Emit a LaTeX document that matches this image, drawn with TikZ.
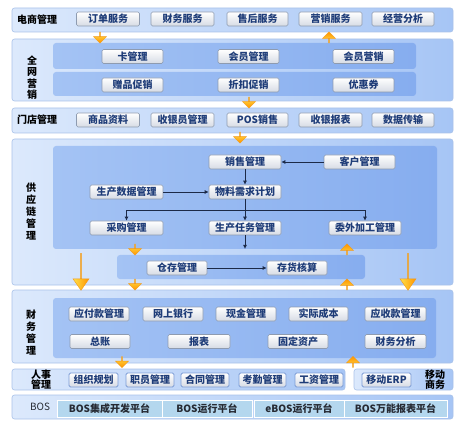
\documentclass[tikz,border=0pt]{standalone}
\usepackage{fontspec}
\setmainfont{Noto Sans CJK SC}
\usetikzlibrary{arrows.meta,shapes.arrows,shadows}

\definecolor{bandL}{HTML}{DCE9FC}
\definecolor{bandR}{HTML}{A6C5F5}
\definecolor{bandline}{HTML}{A9C2E9}
\definecolor{panelL}{HTML}{A4C3F4}
\definecolor{panelR}{HTML}{86ADEF}
\definecolor{btnline}{HTML}{8E9BB0}
\definecolor{btnbot}{HTML}{D6DBE4}
\definecolor{btntext}{HTML}{1E3C78}
\definecolor{hrline}{HTML}{7C9CD6}
\definecolor{tabfill}{HTML}{B4D7EE}
\definecolor{tabtext}{HTML}{262A33}
\definecolor{arrL}{HTML}{FFE048}
\definecolor{arrR}{HTML}{FF9400}
\definecolor{arrline}{HTML}{F29A1A}
\definecolor{connline}{HTML}{1C2A48}

\newcommand\btnfont{\bfseries\fontsize{10}{12}\selectfont}
\newcommand\lblfont{\bfseries\fontsize{10}{12}\selectfont}

\begin{document}
\begin{tikzpicture}[x=1pt, y=-1pt, >={Latex[length=4pt,width=4pt]},
  band/.style={draw=bandline, line width=0.6pt, rounded corners=2.5pt, left color=bandL, right color=bandR},
  panel/.style={rounded corners=3pt, left color=panelL, right color=panelR},
  btn/.style={draw=btnline, line width=0.6pt, rounded corners=1.5pt, top color=white, bottom color=btnbot,
    text=btntext, font=\btnfont, minimum height=14pt, inner sep=0pt},
  hrbtn/.style={btn, draw=hrline, line width=0.9pt, minimum width=48pt},
  tab/.style={draw=white, line width=0.8pt, fill=tabfill, text=tabtext, font=\btnfont, minimum height=17pt,
    inner sep=0pt, drop shadow={shadow xshift=1pt, shadow yshift=-1.2pt, opacity=0.45}},
  lbl/.style={font=\lblfont, align=center, inner sep=0pt},
  conn/.style={draw=connline, line width=0.8pt},
  blk/.style={single arrow, draw=arrline, line width=0.4pt, inner sep=0pt},
  odown/.style={blk, shape border rotate=270, top color=arrL, bottom color=arrR,
    single arrow head extend=3.5pt, minimum width=13pt, minimum height=11pt},
  oup/.style={blk, shape border rotate=90, top color=arrR, bottom color=arrL,
    single arrow head extend=3.5pt, minimum width=13pt, minimum height=11pt},
  bigdown/.style={blk, shape border rotate=270, left color=arrL, right color=arrR,
    single arrow head extend=4pt, single arrow tip angle=70, minimum width=16pt, minimum height=37pt}]
  \useasboundingbox (0,0) rectangle (457,427);

  % bands
  \path[band] (12,8) rectangle (453,32);
  \path[band] (12,39) rectangle (453,101);
  \path[band] (12,108) rectangle (453,133);
  \path[band] (12,139) rectangle (453,285);
  \path[band] (12,290) rectangle (453,363);
  \path[band] (12,369) rectangle (345,390);
  \path[band] (354,369) rectangle (453,390);
  \path[band] (12,395) rectangle (453,419);

  \path[panel] (53,43) rectangle (416,69);
  \path[panel] (53,72) rectangle (416,96);
  \path[panel] (53,146) rectangle (437,249);
  \path[panel] (117,255) rectangle (365,279);
  \path[panel] (53,298) rectangle (436,358);

  % labels
  \node[lbl] (l1) at (37,20) {电商管理};
  \node[lbl, font=\bfseries\fontsize{10}{11.5}\selectfont] (l2) at (32,77.5) {全\\网\\营\\销};
  \node[lbl] (l3) at (37,120) {门店管理};
  \node[lbl, font=\bfseries\fontsize{10}{12}\selectfont] (l4) at (31,212) {供\\应\\链\\管\\理};
  \node[lbl, font=\bfseries\fontsize{10}{12}\selectfont] (l5) at (31,333) {财\\务\\管\\理};
  \node[lbl, font=\bfseries\fontsize{10}{10}\selectfont] (l6) at (41,379.5) {人事\\管理};
  \node[lbl, font=\bfseries\fontsize{10}{10}\selectfont] (l7) at (435,379.5) {移动\\商务};
  \node[lbl, font=\fontsize{10}{12}\selectfont, text=tabtext] (l8) at (40,407) {BOS};

  % e-commerce
  \node[btn, minimum width=63pt] (e1) at (108,19) {订单服务};
  \node[btn, minimum width=63pt] (e2) at (182.5,19) {财务服务};
  \node[btn, minimum width=61pt] (e3) at (257.5,19) {售后服务};
  \node[btn, minimum width=63pt] (e4) at (330.5,19) {营销服务};
  \node[btn, minimum width=62pt] (e5) at (403,19) {经营分析};

  % marketing
  \node[btn, minimum width=61pt] (m1) at (132.5,56.5) {卡管理};
  \node[btn, minimum width=61pt] (m2) at (248.5,56.5) {会员管理};
  \node[btn, minimum width=61pt] (m3) at (363.5,56.5) {会员营销};
  \node[btn, minimum width=61pt] (m4) at (132.5,85) {赠品促销};
  \node[btn, minimum width=61pt] (m5) at (248.5,85) {折扣促销};
  \node[btn, minimum width=61pt] (m6) at (363.5,85) {优惠券};

  % store
  \node[btn, minimum width=63pt] (s1) at (108,120) {商品资料};
  \node[btn, minimum width=63pt] (s2) at (182.5,120) {收银员管理};
  \node[btn, minimum width=61pt] (s3) at (257.5,120) {POS销售};
  \node[btn, minimum width=63pt] (s4) at (330.5,120) {收银报表};
  \node[btn, minimum width=62pt] (s5) at (403,120) {数据传输};

  % supply chain
  \node[btn, minimum width=72pt] (sales) at (245,162) {销售管理};
  \node[btn, minimum width=71pt] (cust) at (359.5,162) {客户管理};
  \node[btn, minimum width=73pt] (pdm) at (126.5,192) {生产数据管理};
  \node[btn, minimum width=72pt] (mrp) at (245,192) {物料需求计划};
  \node[btn, minimum width=73pt] (purch) at (126.5,228) {采购管理};
  \node[btn, minimum width=72pt] (task) at (245,228) {生产任务管理};
  \node[btn, minimum width=72pt] (outs) at (365,228) {委外加工管理};
  \node[btn, minimum width=60pt] (stock) at (177,268) {仓存管理};
  \node[btn, minimum width=60pt] (cost) at (297,268) {存货核算};
  \coordinate (jct) at (245,210);
  \coordinate (taskout) at (245,249);

  \draw[conn, ->] (cust) -- (sales);
  \draw[conn, ->] (sales) -- (mrp);
  \draw[conn, ->] (pdm) -- (mrp);
  \draw[conn, ->] (mrp) -- (task);
  \draw[conn, ->] (jct) -| (purch);
  \draw[conn, ->] (jct) -| (outs);
  \draw[conn, ->] (task) -- (taskout);
  \draw[conn, ->] (stock) -- (cost);

  % finance
  \node[btn, minimum width=60pt] (f1) at (99,314) {应付款管理};
  \node[btn, minimum width=60pt] (f2) at (173,314) {网上银行};
  \node[btn, minimum width=60pt] (f3) at (246,314) {现金管理};
  \node[btn, minimum width=59pt] (f4) at (318.5,314) {实际成本};
  \node[btn, minimum width=61pt] (f5) at (395.5,314) {应收款管理};
  \node[btn, minimum width=60pt] (f6) at (100,341.5) {总账};
  \node[btn, minimum width=62pt] (f7) at (199,341.5) {报表};
  \node[btn, minimum width=60pt] (f8) at (298,341.5) {固定资产};
  \node[btn, minimum width=61pt] (f9) at (395.5,341.5) {财务分析};

  % hr and mobile
  \node[hrbtn, minimum width=49pt] (h1) at (93.5,380) {组织规划};
  \node[hrbtn] (h2) at (150,380) {职员管理};
  \node[hrbtn] (h3) at (205,380) {合同管理};
  \node[hrbtn, minimum width=47pt] (h4) at (262.5,380) {考勤管理};
  \node[hrbtn] (h5) at (319,380) {工资管理};
  \node[hrbtn, minimum width=49pt] (mob) at (386.5,380) {移动ERP};

  % bos
  \node[tab, minimum width=105pt] (b1) at (109.5,408.5) {BOS集成开发平台};
  \node[tab, minimum width=90pt] (b2) at (207,408.5) {BOS运行平台};
  \node[tab, minimum width=90pt] (b3) at (299,408.5) {eBOS运行平台};
  \node[tab, minimum width=103pt] (b4) at (395.5,408.5) {BOS万能报表平台};

  % flow arrows
  \node[odown] (a1) at (100,37.5) {};
  \node[oup] (a2) at (329,37.5) {};
  \node[odown] (a3) at (249,102.5) {};
  \node[odown] (a4) at (240,137.5) {};
  \node[odown] (a5) at (135,249.5) {};
  \node[oup] (a6) at (347,249.5) {};
  \node[odown] (a7) at (135,284.5) {};
  \node[oup] (a8) at (347,284.5) {};
  \node[bigdown] (a9) at (81,271.5) {};
  \node[bigdown] (a10) at (408,271.5) {};
  \node[odown] (a11) at (122,362) {};
  \node[oup] (a12) at (353,362) {};
\end{tikzpicture}
\end{document}
